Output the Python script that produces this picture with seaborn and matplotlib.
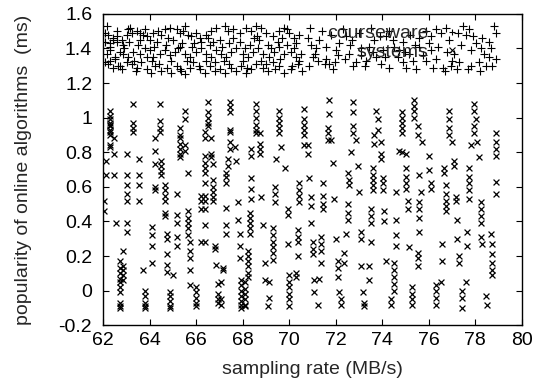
import matplotlib
matplotlib.use("Agg")
import matplotlib.pyplot as plt
from matplotlib.lines import Line2D
from matplotlib.ticker import FuncFormatter
import pandas as pd
import seaborn as sns

# "systems" series: x position of each column and the y values read in it
cross_cols = [62.03, 62.12, 62.3, 62.45, 62.55, 62.7, 62.86, 63.0, 63.29, 63.55,
              63.72, 63.8, 64.08, 64.22, 64.43, 64.5, 64.65, 64.72, 64.85, 65.0,
              65.15, 65.29, 65.5, 65.65, 65.72, 66.0, 66.22,
              66.36, 66.51, 66.65, 66.72, 66.8, 66.87, 66.94, 67.08, 67.15, 67.29,
              67.37, 67.44, 67.65, 67.72, 67.8, 67.87, 67.94, 68.08, 68.22, 68.3,
              68.37, 68.58, 68.73, 68.8, 68.87, 68.94, 69.08, 69.15, 69.3, 69.37,
              69.44, 69.58, 69.65, 69.8, 69.94, 70.01, 70.3, 70.37, 70.44,
              70.62, 70.8, 70.87, 70.94, 71.01, 71.08, 71.23, 71.3, 71.37, 71.44,
              71.66, 71.73, 71.8, 71.87, 71.94, 72.01, 72.09, 72.16, 72.23, 72.37,
              72.44, 72.51, 72.59, 72.66, 72.73, 72.87, 72.94, 73.01, 73.09, 73.16,
              73.23, 73.44, 73.52, 73.59, 73.66, 73.73, 73.8, 73.94, 74.02, 74.09,
              74.16, 74.37, 74.52, 74.59, 74.73,
              74.87, 75.02, 75.09, 75.16, 75.3, 75.37, 75.52, 75.59, 75.66, 75.73,
              76.02, 76.09, 76.3, 76.52, 76.59, 76.66, 76.73, 76.88, 77.02, 77.09,
              77.16, 77.23, 77.31, 77.45, 77.59, 77.66, 77.73, 77.81, 77.95, 78.02,
              78.09, 78.16, 78.23, 78.31, 78.45, 78.52, 78.66, 78.74, 78.88]
cross_vals = [
    [0.52, 0.46], [0.75, 0.67],
    [1.04, 1.01, 0.99, 0.97, 0.96, 0.95, 0.93, 0.92, 0.90, 0.84, 0.83],
    [0.88, 0.79, 0.67], [0.39],
    [0.17, 0.13, 0.10, 0.07, 0.05, 0.02, -0.01, -0.07, -0.09, -0.10],
    [0.23, 0.14, 0.12, 0.09, 0.06],
    [0.79, 0.67, 0.61, 0.56, 0.52, 0.39, 0.34],
    [1.08, 0.97, 0.94, 0.92], [0.76, 0.67, 0.61, 0.52], [0.12],
    [0.00, -0.03, -0.07, -0.09, -0.10], [0.37, 0.32, 0.26, 0.16],
    [0.88, 0.81, 0.73, 0.60, 0.58], [1.08, 0.98, 0.94, 0.92],
    [0.75, 0.72, 0.69, 0.67], [0.61, 0.58, 0.55, 0.52, 0.45, 0.43],
    [0.33, 0.30, 0.21, 0.15, 0.11], [-0.01, -0.03, -0.06, -0.09, -0.10], [0.09],
    [0.56, 0.44, 0.39, 0.31, 0.26], [0.94, 0.90, 0.88, 0.85, 0.82, 0.79, 0.77],
    [1.04, 0.99, 0.84, 0.81], [0.68, 0.46, 0.42, 0.39, 0.36, 0.32],
    [0.28, 0.23, 0.19, 0.12, 0.03], [0.02, -0.01, -0.04, -0.07, -0.09],
    [0.55, 0.52, 0.47, 0.28],
    [0.92, 0.88, 0.78, 0.74, 0.71, 0.68, 0.62, 0.55, 0.52, 0.47, 0.38, 0.28],
    [1.09, 1.03, 1.00, 0.97, 0.95], [0.88, 0.79, 0.77],
    [0.73, 0.64, 0.60, 0.57, 0.54, 0.52], [0.26, 0.24], [0.15],
    [0.04, -0.02, -0.05, -0.07], [0.05, -0.05, -0.08], [0.13, 0.12],
    [0.68, 0.66, 0.62, 0.48, 0.38, 0.33], [0.76, 0.72],
    [1.09, 1.06, 1.03, 0.93, 0.92, 0.86, 0.82], [0.83], [0.75], [0.51, 0.41],
    [0.33, 0.26, 0.19], [0.06, 0.03, 0.00, -0.03, -0.06, -0.08, -0.10],
    [0.05, 0.01, -0.02, -0.05, -0.08, -0.09], [0.23, 0.20, 0.17, 0.14, 0.10, 0.08],
    [0.45, 0.42, 0.39, 0.36, 0.33], [0.82, 0.78, 0.65, 0.59, 0.53],
    [1.08, 1.04, 1.00, 0.96, 0.93, 0.91], [0.91, 0.85, 0.82, 0.79], [0.54], [0.38],
    [0.16, 0.06], [-0.09], [0.05, -0.04], [0.36, 0.32, 0.28, 0.25, 0.22, 0.18],
    [0.60, 0.56, 0.51], [0.76], [1.04, 1.00, 0.97, 0.94, 0.91], [0.83], [0.71],
    [0.47, 0.44, 0.27], [0.09, 0.05, 0.02, -0.02, -0.05, -0.09], [0.10, 0.08],
    [0.35, 0.31, 0.28, 0.20], [0.62, 0.58, 0.55, 0.51],
    [1.05, 0.99, 0.96, 0.93, 0.90, 0.84], [0.84, 0.79], [0.65], [0.54, 0.49, 0.39],
    [0.28, 0.24, 0.21], [0.06, -0.01], [-0.08], [0.07], [0.31, 0.27, 0.23, 0.16],
    [0.62, 0.55, 0.50, 0.47], [0.94, 0.91, 0.87], [1.10, 1.02], [0.87], [0.74],
    [0.53], [0.30], [0.17, 0.13, 0.08], [-0.01], [-0.05, -0.08], [0.22, 0.16],
    [0.33], [0.68, 0.50, 0.45, 0.41], [0.64, 0.61], [0.80], [1.09, 1.03, 0.95, 0.91],
    [0.87], [0.72], [0.57], [0.34, 0.30, 0.14], [-0.01], [-0.07, -0.09],
    [0.14, 0.06], [0.47, 0.43, 0.39, 0.28], [0.71, 0.67, 0.64, 0.61, 0.58],
    [0.90, 0.85], [1.04], [0.99, 0.93], [0.86, 0.79, 0.76], [0.65, 0.62, 0.58],
    [0.46, 0.40], [0.17], [-0.05, -0.08], [0.16, 0.12, 0.08, 0.04, 0.00],
    [0.57, 0.41, 0.32, 0.26], [0.81],
    [1.03, 1.00, 0.97, 0.94, 0.91, 0.80], [0.79, 0.71, 0.66, 0.62, 0.59],
    [0.52, 0.47], [0.25], [0.02, -0.02, -0.05, -0.08], [1.10, 1.07, 1.04, 1.00],
    [0.95, 0.90, 0.22, 0.19, 0.14], [0.67, 0.51, 0.47, 0.42, 0.34], [0.57], [0.86],
    [0.78, 0.70], [0.62, 0.59], [0.03, 0.00, -0.04, -0.08], [0.05], [0.27, 0.17],
    [0.71, 0.68], [0.61, 0.56, 0.52, 0.49, 0.46], [1.04, 0.99, 0.94, 0.90], [0.86],
    [0.75, 0.72], [0.54, 0.52], [0.41, 0.30], [0.20, 0.16], [0.00, -0.04, -0.10],
    [0.05], [0.34, 0.26], [0.71, 0.66, 0.62, 0.58, 0.53], [0.84],
    [1.08, 1.04, 0.95, 0.91], [0.99], [0.86], [0.77], [0.51, 0.47, 0.43, 0.39, 0.31],
    [0.27], [-0.03], [-0.08], [0.33], [0.27, 0.21, 0.16, 0.12, 0.09],
    [0.91, 0.86, 0.82, 0.78, 0.63, 0.56],
]

# "courseware" series
plus_x = [62.15, 62.07, 62.22, 62.07, 62.29, 62.43, 62.57, 62.79, 62.86, 63.0,
          63.15, 63.07, 63.22, 63.43, 63.57, 63.72, 63.86, 64.0, 64.15, 64.36,
          64.5, 64.65, 64.86, 65.15, 65.29, 65.43, 65.65, 65.79, 66.0, 66.15,
          66.43, 66.65, 66.86, 67.22, 67.36, 67.57, 67.86, 68.15, 68.36, 68.57,
          68.79, 69.0, 69.29, 69.57, 69.79, 70.0, 70.22, 70.43,
          62.15, 62.29, 62.5, 62.72, 62.86, 63.07, 63.29, 63.57, 63.79, 64.0,
          64.15, 64.43, 64.65, 64.86, 65.07, 65.29, 65.5, 65.72, 66.0, 66.22,
          66.43, 66.65, 66.86, 67.07, 67.29, 67.5, 67.72, 68.0, 68.22, 68.43,
          68.65, 68.86, 69.15, 69.36, 69.57, 69.79, 70.07, 70.29, 70.5,
          62.07, 62.29, 62.43, 62.64, 62.79, 63.0, 63.22, 63.43, 63.64, 63.86,
          64.07, 64.22, 64.5, 64.72, 64.93, 65.15, 65.36, 65.5, 65.72, 65.86,
          66.15, 66.36, 66.57, 66.79, 67.0, 67.22, 67.5, 67.72, 67.93, 68.15,
          68.36, 68.57, 68.86, 69.07, 69.29, 69.57, 69.79, 70.07, 70.36, 70.57,
          62.3, 62.6, 63.1, 63.5, 63.9, 64.3, 64.7, 65.0, 65.4, 65.8,
          66.2, 66.6, 67.0, 67.4, 67.9, 68.3, 68.7, 69.1, 69.5, 69.9, 70.3,
          62.5, 63.3, 64.1, 64.9, 65.6, 66.4, 67.2, 68.0, 68.8, 69.6, 70.4,
          62.4, 62.9, 63.6, 64.2, 64.8, 65.2, 65.9, 66.5, 67.1, 67.6,
          68.1, 68.5, 69.2, 69.7, 70.2, 62.2, 62.7, 63.4, 64.4, 65.3,
          66.1, 66.8, 67.4, 68.2, 69.0, 69.4, 70.1, 62.6, 63.8, 65.5,
          66.7, 68.6, 69.9,
          70.8, 70.95, 71.16, 71.3, 71.59, 71.73, 71.95, 72.16, 72.45, 72.59,
          72.88, 73.24, 73.45, 73.74, 73.95, 74.17, 74.45, 74.74, 75.02, 75.31,
          75.6, 75.88, 76.1, 76.31, 76.53, 76.74, 76.88, 77.1, 77.24, 77.46,
          77.6, 77.74, 77.89, 78.03, 78.24, 78.39, 78.6, 78.81, 78.89, 78.74,
          78.89, 78.46, 78.17, 77.67, 77.31, 76.96, 76.6, 76.31, 76.1, 75.74,
          75.45, 75.17, 74.88, 74.67, 74.31, 74.02, 73.66, 73.31, 73.09, 72.73,
          72.38, 72.02, 71.88, 71.52, 71.23, 71.02, 70.87,
          70.9, 71.4, 71.8, 72.3, 72.7, 73.0, 73.5, 73.9, 74.3, 74.9,
          75.2, 75.6, 76.0, 76.4, 76.8, 77.0, 77.4, 77.8, 78.3, 78.6,
          71.1, 71.6, 72.1, 72.6, 73.1, 73.6, 74.1, 74.5, 75.0, 75.4,
          75.9, 76.2, 76.7, 77.2, 77.8, 78.2, 78.7]
plus_y = [1.53, 1.49, 1.48, 1.44, 1.43, 1.45, 1.44, 1.45, 1.42, 1.48,
          1.52, 1.51, 1.49, 1.50, 1.49, 1.48, 1.47, 1.45, 1.49, 1.50,
          1.48, 1.51, 1.52, 1.51, 1.49, 1.50, 1.48, 1.47, 1.49, 1.46,
          1.48, 1.50, 1.52, 1.53, 1.50, 1.51, 1.49, 1.52, 1.50, 1.53,
          1.52, 1.49, 1.47, 1.50, 1.52, 1.49, 1.46, 1.48,
          1.37, 1.39, 1.35, 1.38, 1.37, 1.35, 1.38, 1.37, 1.40, 1.39,
          1.35, 1.37, 1.39, 1.36, 1.38, 1.41, 1.37, 1.35, 1.38, 1.40,
          1.37, 1.35, 1.39, 1.37, 1.35, 1.38, 1.40, 1.37, 1.35, 1.38,
          1.40, 1.37, 1.35, 1.38, 1.41, 1.37, 1.38, 1.35, 1.37,
          1.32, 1.33, 1.29, 1.30, 1.28, 1.32, 1.31, 1.29, 1.32, 1.28,
          1.26, 1.30, 1.27, 1.29, 1.26, 1.30, 1.27, 1.25, 1.29, 1.32,
          1.28, 1.26, 1.30, 1.32, 1.28, 1.26, 1.29, 1.27, 1.30, 1.26,
          1.28, 1.31, 1.29, 1.27, 1.32, 1.30, 1.26, 1.28, 1.31, 1.27,
          1.41, 1.50, 1.44, 1.42, 1.35, 1.44, 1.42, 1.45, 1.43, 1.41,
          1.44, 1.42, 1.45, 1.43, 1.44, 1.42, 1.45, 1.42, 1.44, 1.42, 1.43,
          1.34, 1.33, 1.33, 1.33, 1.33, 1.33, 1.33, 1.33, 1.33, 1.34, 1.33,
          1.46, 1.40, 1.45, 1.41, 1.46, 1.40, 1.43, 1.46, 1.41, 1.46,
          1.40, 1.46, 1.40, 1.46, 1.40, 1.31, 1.30, 1.27, 1.31, 1.28,
          1.30, 1.27, 1.31, 1.29, 1.31, 1.28, 1.30, 1.47, 1.51, 1.53,
          1.44, 1.47, 1.51,
          1.46, 1.42, 1.40, 1.45, 1.34, 1.31, 1.32, 1.43, 1.47, 1.37,
          1.32, 1.30, 1.41, 1.35, 1.31, 1.47, 1.45, 1.39, 1.29, 1.33,
          1.41, 1.50, 1.47, 1.51, 1.49, 1.52, 1.45, 1.37, 1.49, 1.53,
          1.48, 1.51, 1.47, 1.43, 1.40, 1.37, 1.44, 1.53, 1.49, 1.30,
          1.34, 1.30, 1.32, 1.28, 1.32, 1.30, 1.29, 1.34, 1.39, 1.36,
          1.28, 1.37, 1.32, 1.35, 1.29, 1.39, 1.45, 1.33, 1.36, 1.30,
          1.34, 1.39, 1.28, 1.31, 1.33, 1.35, 1.30,
          1.52, 1.50, 1.48, 1.51, 1.45, 1.49, 1.52, 1.47, 1.50, 1.44,
          1.48, 1.46, 1.43, 1.41, 1.38, 1.33, 1.42, 1.39, 1.46, 1.35,
          1.37, 1.41, 1.36, 1.42, 1.40, 1.38, 1.35, 1.41, 1.38, 1.42,
          1.33, 1.29, 1.27, 1.28, 1.30, 1.27, 1.40]

x_ticks = [62, 64, 66, 68, 70, 72, 74, 76, 78, 80]
y_ticks = [-0.2, 0, 0.2, 0.4, 0.6, 0.8, 1, 1.2, 1.4, 1.6]

rows = [("courseware", x, y) for x, y in zip(plus_x, plus_y)]
rows += [("systems", x, y) for x, ys in zip(cross_cols, cross_vals) for y in ys]
df = pd.DataFrame(rows, columns=["series", "rate", "popularity"])

sns.set_style("ticks")
plt.rcParams["font.family"] = ["Liberation Sans", "DejaVu Sans"]

fig = plt.figure(figsize=(5.36, 3.89), dpi=100)
ax = fig.add_axes([0.1927, 0.1638, 0.7806, 0.8005])

for name, marker, size, lw in [("courseware", "+", 28, 0.8), ("systems", "x", 18, 0.9)]:
    sub = df[df["series"] == name]
    sns.scatterplot(data=sub, x="rate", y="popularity", marker=marker, s=size,
                    color="black", linewidth=lw, ax=ax, legend=False, zorder=2)

ax.set_xlim(62, 80)
ax.set_ylim(-0.2, 1.6)
ax.set_xticks(x_ticks)
ax.set_yticks(y_ticks)
ax.yaxis.set_major_formatter(FuncFormatter(lambda v, p: "%g" % round(v, 1)))
ax.tick_params(direction="in", top=True, right=True, length=4, width=0.8,
               labelsize=14, colors="black")
ax.tick_params(axis="y", pad=8)
ax.tick_params(axis="x", pad=5)
for sp in ax.spines.values():
    sp.set_linewidth(1.0)
    sp.set_color("black")

ax.set_xlabel("sampling rate (MB/s)", fontsize=14)
ax.set_ylabel("popularity of online algorithms  (ms)", fontsize=14)
ax.xaxis.set_label_coords(0.5, -0.115)
ax.yaxis.set_label_coords(-0.17, 0.5)

handles = [Line2D([], [], ls="none", marker="+", color="black", ms=5, mew=0.8),
           Line2D([], [], ls="none", marker="x", color="black", ms=4, mew=0.8)]
ax.legend(handles, ["courseware", "systems"], loc="upper right",
          bbox_to_anchor=(0.889, 0.99), frameon=False, markerfirst=False,
          fontsize=14, handlelength=1.6, handletextpad=0.4, labelspacing=0.05,
          borderaxespad=0)

fig.savefig("out.png", dpi=100)
